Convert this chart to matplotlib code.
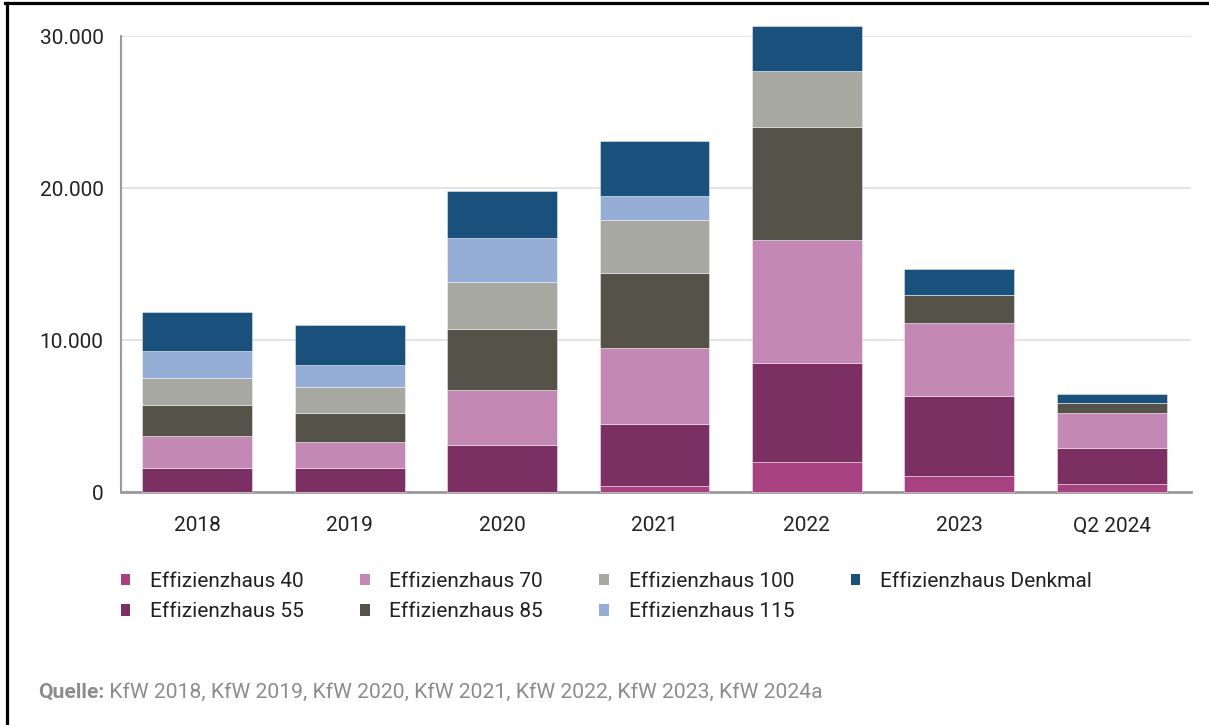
import matplotlib
matplotlib.use("Agg")
import matplotlib.pyplot as plt
from matplotlib.patches import Patch
from matplotlib.lines import Line2D
import numpy as np

plt.rcParams['font.family'] = ['Roboto', 'DejaVu Sans']

categories = ["2018", "2019", "2020", "2021", "2022", "2023", "Q2 2024"]
series_names = ["Effizienzhaus 40", "Effizienzhaus 55", "Effizienzhaus 70",
                "Effizienzhaus 85", "Effizienzhaus 100", "Effizienzhaus 115",
                "Effizienzhaus Denkmal"]
eh40 = [0, 0, 0, 375, 1950, 1050, 526]
eh55 = [1600, 1560, 3090, 4095, 6520, 5250, 2370]
eh70 = [2065, 1730, 3620, 5030, 8130, 4820, 2285]
eh85 = [2035, 1930, 4020, 4890, 7400, 1860, 700]
eh100 = [1820, 1690, 3110, 3530, 3680, 0, 0]
eh115 = [1740, 1430, 2850, 1560, 0, 0, 0]
denkmal = [2580, 2650, 3140, 3640, 2960, 1670, 570]
yticks = [0, 10000, 20000, 30000]
ytick_labels = ["0", "10.000", "20.000", "30.000"]
source_label = "Quelle:"
source_text = " KfW 2018, KfW 2019, KfW 2020, KfW 2021, KfW 2022, KfW 2023, KfW 2024a"

colors = ["#a8417f", "#7b2f63", "#c488b4", "#55524a", "#a8a8a3", "#96aed6", "#19507c"]
series = [eh40, eh55, eh70, eh85, eh100, eh115, denkmal]

W, H = 1209, 725
fig = plt.figure(figsize=(W / 100, H / 100), dpi=100)
ax = fig.add_axes([121 / W, 1 - 492 / H, (1191 - 121) / W, (492 - 36) / H])

x = np.arange(len(categories))
bottom = np.zeros(len(categories))
handles = []
for name, vals, col in zip(series_names, series, colors):
    v = np.array(vals, dtype=float)
    ax.bar(x, v, bottom=bottom, width=0.72, color=col, edgecolor=(1, 1, 1, 0.5),
           linewidth=0.6, clip_on=False, zorder=3)
    bottom += v
    handles.append(Patch(facecolor=col, edgecolor='none'))

ax.set_xlim(-0.5, 6.52)
ax.set_ylim(0, 30000)
ax.set_yticks(yticks)
ax.set_yticklabels(ytick_labels)
ax.set_xticks(x)
ax.set_xticklabels(categories)
ax.tick_params(axis='y', length=0, pad=12.5, labelsize=15, labelcolor='#222222')
ax.tick_params(axis='x', length=0, pad=17.5, labelsize=15, labelcolor='#222222')
ax.grid(axis='y', color='#e0e0e0', linewidth=1.3, zorder=0)
ax.set_axisbelow(True)
for s in ['top', 'right']:
    ax.spines[s].set_visible(False)
ax.spines['left'].set_color('#9a9a9a')
ax.spines['bottom'].set_color('#9a9a9a')
ax.spines['left'].set_linewidth(1.5)
ax.spines['bottom'].set_linewidth(2.0)

leg = fig.legend(handles, series_names, ncol=4, loc='upper left',
                 bbox_to_anchor=(121 / W, 1 - 572 / H), frameon=False,
                 fontsize=15, handlelength=0.45, handleheight=0.45,
                 handletextpad=0.95, columnspacing=2.7, labelspacing=0.55,
                 borderaxespad=0, borderpad=0)
for t in leg.get_texts():
    t.set_color('#222222')

t1 = fig.text(38 / W, 1 - 692 / H, source_label, fontsize=15.2, fontweight='bold',
              color='#8c8c8c', va='center', ha='left')
fig.canvas.draw()
bb = t1.get_window_extent()
fig.text(bb.x1 / W, 1 - 692 / H, source_text, fontsize=15.2, color='#8c8c8c',
         va='center', ha='left')

# figure border (top and left)
fig.add_artist(Line2D([6.5 / W, 6.5 / W], [0, 1 - 2.5 / H], color='black', linewidth=2.3,
                      transform=fig.transFigure))
fig.add_artist(Line2D([5 / W, 1], [1 - 2.5 / H, 1 - 2.5 / H], color='black', linewidth=2.3,
                      transform=fig.transFigure))

fig.savefig("out.png", dpi=100)
